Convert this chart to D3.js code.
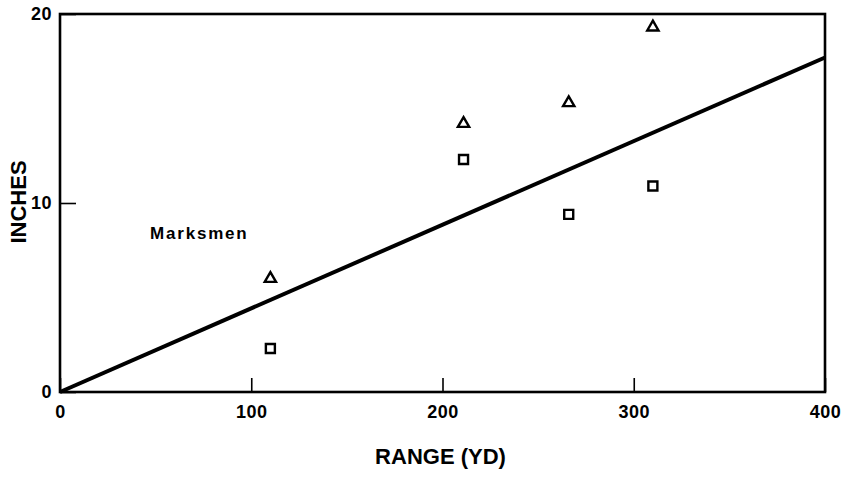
<!DOCTYPE html>
<html><head><meta charset="utf-8">
<script src="https://cdn.jsdelivr.net/npm/d3@7"></script>
<style>
body{margin:0;background:#fff;}
text{font-family:"Liberation Sans",Arial,sans-serif;font-weight:bold;fill:#000;}
</style></head>
<body><svg id="c" width="850" height="477"></svg>
<script>
const rangeYd = [110, 211, 266, 310];
const triangleInches = [6.0, 14.2, 15.3, 19.3];
const squareInches = [2.3, 12.3, 9.4, 10.9];
const fitLineX = [0, 400];
const fitLineY = [0, 17.7];
const xTicks = [0, 100, 200, 300, 400];
const yTicks = [0, 10, 20];

const svg = d3.select("#c");
const x = d3.scaleLinear().domain([0, 400]).range([60, 825]);
const y = d3.scaleLinear().domain([0, 20]).range([392, 14]);

// x axis
const gx = svg.append("g").attr("transform", `translate(0,${y(0)})`)
  .call(d3.axisBottom(x).tickValues(xTicks).tickSizeInner(-14).tickSizeOuter(0).tickPadding(13).tickFormat(d3.format("d")));
gx.select(".domain").remove();
gx.selectAll("line").attr("stroke", "#000").attr("stroke-width", 1.6);
gx.selectAll("text").style("font-size", "18px").attr("letter-spacing", "0.5");

// y axis
const gy = svg.append("g").attr("transform", `translate(${x(0)},0)`)
  .call(d3.axisLeft(y).tickValues(yTicks).tickSizeInner(-16).tickSizeOuter(0).tickPadding(8).tickFormat(d3.format("d")));
gy.select(".domain").remove();
gy.selectAll("line").attr("stroke", "#000").attr("stroke-width", 1.6);
gy.selectAll("text").style("font-size", "18px").attr("letter-spacing", "0.5");

// frame
svg.append("rect").attr("x", x(0)).attr("y", y(20))
  .attr("width", x(400) - x(0)).attr("height", y(0) - y(20))
  .attr("fill", "none").attr("stroke", "#000").attr("stroke-width", 2.6);

// fit line
svg.append("path")
  .datum(fitLineX.map((d, i) => [d, fitLineY[i]]))
  .attr("d", d3.line().x(d => x(d[0])).y(d => y(d[1])))
  .attr("fill", "none").attr("stroke", "#000").attr("stroke-width", 4);

// markers
svg.selectAll(".tri").data(rangeYd.map((d, i) => [d, triangleInches[i]]))
  .enter().append("path")
  .attr("transform", d => `translate(${x(d[0])},${y(d[1])})`)
  .attr("d", d3.symbol().type(d3.symbolTriangle).size(55))
  .attr("fill", "none").attr("stroke", "#000").attr("stroke-width", 2.4);

svg.selectAll(".sq").data(rangeYd.map((d, i) => [d, squareInches[i]]))
  .enter().append("path")
  .attr("transform", d => `translate(${x(d[0])},${y(d[1])})`)
  .attr("d", d3.symbol().type(d3.symbolSquare).size(81))
  .attr("fill", "none").attr("stroke", "#000").attr("stroke-width", 2.4);

// labels
svg.append("text").attr("x", 150).attr("y", 239)
  .style("font-size", "17px").attr("letter-spacing", "1.8").text("Marksmen");

svg.append("text").attr("x", (x(0) + x(400)) / 2 - 2).attr("y", 464)
  .attr("text-anchor", "middle").style("font-size", "22px").text("RANGE (YD)");

svg.append("text").attr("transform", "translate(26,202) rotate(-90)")
  .attr("text-anchor", "middle").style("font-size", "22px").text("INCHES");
</script></body></html>
